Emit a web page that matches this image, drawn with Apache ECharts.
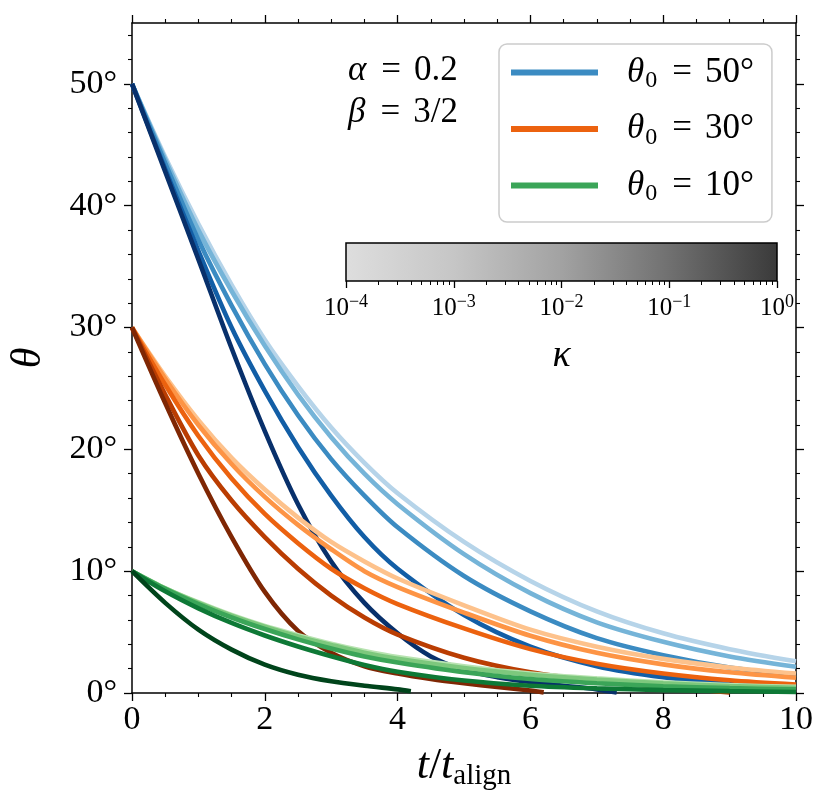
<!DOCTYPE html>
<html>
<head>
<meta charset="utf-8">
<script src="https://cdn.jsdelivr.net/npm/echarts@6/dist/echarts.min.js"></script>
<style>
html, body { margin: 0; padding: 0; background: #fff; }
#main { width: 829px; height: 811px; }
</style>
</head>
<body>
<div id="main"></div>
<script>
// time samples (t / t_align)
var tSteps = [0, 0.5, 1, 1.5, 2, 2.5, 3, 3.5, 4, 5, 6, 7, 8, 9, 10];
var tBlueFast = [0, 0.5, 1, 1.5, 2, 2.5, 3, 3.5, 4, 4.5, 5, 5.5, 6, 6.5, 7, 7.3];
var tOrangeMid = [0, 0.5, 1, 1.5, 2, 2.5, 3, 3.5, 4, 5, 6, 7, 8, 9];
var tOrangeFast = [0, 0.5, 1, 1.5, 2, 2.5, 3, 3.5, 4, 4.5, 5, 5.5, 6, 6.2];
var tGreenFast = [0, 0.5, 1, 1.5, 2, 2.5, 3, 3.5, 4, 4.2];

// theta0 = 50 deg, kappa = 1e-4 .. 1
var blueK4 = [50, 44, 38.5, 33.5, 29, 25.2, 21.8, 18.9, 16.4, 12.4, 9.2, 6.7, 4.9, 3.6, 2.6];
var blueK3 = [50, 43.8, 38, 33, 28.5, 24.5, 21, 18, 15.5, 11.4, 8.2, 5.8, 4.2, 3.0, 2.15];
var blueK2 = [50, 43.5, 37.2, 31.8, 27, 22.8, 19.2, 16.2, 13.6, 9.6, 6.7, 4.5, 3.1, 2.1, 1.5];
var blueK1 = [50, 43, 36.3, 30, 24.8, 20.2, 16.2, 12.8, 10.2, 6.4, 3.8, 2.2, 1.3, 0.8, 0.5];
var blueK0 = [50, 42.8, 35.6, 28.3, 21.5, 15.5, 10.8, 7.4, 4.9, 3.0, 1.9, 1.3, 0.9, 0.6, 0.3, 0.05];

// theta0 = 30 deg
var orangeK4 = [30, 26, 22.4, 19.3, 16.7, 14.4, 12.4, 10.8, 9.4, 7.2, 5.2, 3.8, 2.8, 2.1, 1.6];
var orangeK3 = [30, 25.8, 22, 18.8, 16.1, 13.8, 11.8, 10.0, 8.7, 6.6, 4.7, 3.3, 2.35, 1.7, 1.25];
var orangeK2 = [30, 25.3, 21.1, 17.6, 14.7, 12.3, 10.2, 8.6, 7.3, 5.3, 3.6, 2.4, 1.6, 1.05, 0.7];
var orangeK1 = [30, 24.5, 19.5, 15.8, 12.8, 10.2, 8.0, 6.2, 4.8, 2.9, 1.7, 1.0, 0.5, 0.05];
var orangeK0 = [30, 23.8, 18.0, 12.8, 8.3, 5.1, 3.3, 2.2, 1.6, 1.15, 0.8, 0.5, 0.2, 0.05];

// theta0 = 10 deg
var greenK4 = [10, 8.6, 7.45, 6.4, 5.5, 4.75, 4.05, 3.45, 2.95, 2.2, 1.6, 1.2, 0.88, 0.65, 0.5];
var greenK3 = [10, 8.6, 7.4, 6.35, 5.45, 4.65, 3.95, 3.3, 2.8, 2.05, 1.5, 1.1, 0.8, 0.58, 0.42];
var greenK2 = [10, 8.55, 7.3, 6.2, 5.25, 4.4, 3.65, 3.0, 2.5, 1.7, 1.15, 0.8, 0.55, 0.4, 0.3];
var greenK1 = [10, 8.35, 6.95, 5.75, 4.72, 3.82, 3.02, 2.3, 1.75, 1.02, 0.6, 0.38, 0.24, 0.15, 0.08];
var greenK0 = [10, 7.4, 5.2, 3.56, 2.33, 1.5, 0.96, 0.6, 0.3, 0.15];

// colours, light (small kappa) -> dark (kappa = 1)
var blues = ['#b6d4e9', '#75b4d8', '#3b8bc2', '#125ea6', '#08306b'];
var oranges = ['#fdc28c', '#fd9445', '#ec620f', '#ba3d02', '#7f2704'];
var greens = ['#b8e3b1', '#7dc87d', '#3ba558', '#0e7936', '#00441b'];

var yMajor = [0, 10, 20, 30, 40, 50];
var yMinor = [2, 4, 6, 8, 12, 14, 16, 18, 22, 24, 26, 28, 32, 34, 36, 38, 42, 44, 46, 48, 52, 54];
var kappaMajor = [1e-4, 1e-3, 1e-2, 1e-1, 1];
var kappaMinor = [];
[1e-4, 1e-3, 1e-2, 1e-1].forEach(function (d) {
    for (var m = 2; m <= 9; m++) kappaMinor.push(m * d);
});

var serif = "'Liberation Serif', 'DejaVu Serif', serif";

function pairs(ts, vs) {
    var out = [];
    for (var i = 0; i < vs.length; i++) out.push([ts[i], vs[i]]);
    return out;
}

var groups = [
    {key: 'theta50', colors: blues, curves: [[tSteps, blueK4], [tSteps, blueK3], [tSteps, blueK2], [tSteps, blueK1], [tBlueFast, blueK0]]},
    {key: 'theta30', colors: oranges, curves: [[tSteps, orangeK4], [tSteps, orangeK3], [tSteps, orangeK2], [tOrangeMid, orangeK1], [tOrangeFast, orangeK0]]},
    {key: 'theta10', colors: greens, curves: [[tSteps, greenK4], [tSteps, greenK3], [tSteps, greenK2], [tSteps, greenK1], [tGreenFast, greenK0]]}
];

var series = [];
groups.forEach(function (g) {
    g.curves.forEach(function (c, i) {
        series.push({
            name: i === 2 ? g.key : g.key + '_' + i,
            type: 'line',
            xAxisIndex: 0,
            yAxisIndex: 0,
            data: pairs(c[0], c[1]),
            smooth: 0.3,
            showSymbol: false,
            symbol: 'none',
            lineStyle: {color: g.colors[i], width: 4.6},
            itemStyle: {color: g.colors[i]},
            emphasis: {disabled: true},
            animation: false
        });
    });
});

var legendText = {theta50: '50°', theta30: '30°', theta10: '10°'};

var mathRich = {
    it: {fontFamily: serif, fontStyle: 'italic', fontSize: 35, color: '#000'},
    rm: {fontFamily: serif, fontSize: 35, color: '#000'},
    eq: {fontFamily: serif, fontSize: 35, color: '#000', padding: [0, 13, 0, 15]},
    sub: {fontFamily: serif, fontSize: 24, color: '#000', padding: [17, 0, 0, 1]}
};

var axisLineStyle = {color: '#000', width: 1.5};
function frameX(pos, labels) {
    return {
        gridIndex: 0, type: 'value', position: pos, min: 0, max: 10, interval: 2,
        axisLine: {show: true, onZero: false, lineStyle: axisLineStyle},
        axisTick: {show: true, inside: false, length: 8, lineStyle: {color: '#000', width: 1.3}},
        minorTick: {show: true, splitNumber: 4, length: 4, lineStyle: {color: '#000', width: 1.1}},
        splitLine: {show: false},
        axisLabel: {show: labels, fontFamily: serif, fontSize: 34, color: '#000', margin: 10},
        name: labels ? '{it|t}{rm|/}{it|t}{sub|align}' : '',
        nameLocation: 'middle',
        nameGap: 49,
        nameTextStyle: {
            rich: {
                it: {fontFamily: serif, fontStyle: 'italic', fontSize: 44, color: '#000'},
                rm: {fontFamily: serif, fontSize: 44, color: '#000'},
                sub: {fontFamily: serif, fontSize: 29, color: '#000', padding: [20, 0, 0, 0]}
            }
        }
    };
}
function frameY(pos, major, labels) {
    return {
        gridIndex: 0, type: 'value', position: pos, min: 0, max: 55,
        axisLine: {show: major, onZero: false, lineStyle: axisLineStyle},
        axisTick: {show: true, inside: false, length: major ? 8 : 4,
            customValues: major ? yMajor : yMinor,
            lineStyle: {color: '#000', width: major ? 1.3 : 1.1}},
        splitLine: {show: false},
        axisLabel: {show: labels, customValues: yMajor, fontFamily: serif, fontSize: 34, color: '#000', margin: 15,
            formatter: function (v) { return v + '°'; }},
        name: labels ? 'θ' : '',
        nameLocation: 'middle',
        nameRotate: 90,
        nameGap: 82,
        nameTextStyle: {fontFamily: serif, fontStyle: 'italic', fontSize: 42, color: '#000'}
    };
}

var chart = echarts.init(document.getElementById('main'));

chart.setOption({
    backgroundColor: '#fff',
    animation: false,
    grid: [
        {left: 126, right: 33, top: 23, bottom: 118, containLabel: false},
        {left: 346, top: 243, width: 431, height: 38, show: true, borderColor: '#000', borderWidth: 1.5,
            backgroundColor: new echarts.graphic.LinearGradient(0, 0, 1, 0, [
                {offset: 0, color: '#dedede'},
                {offset: 0.25, color: '#c6c6c6'},
                {offset: 0.5, color: '#a2a2a2'},
                {offset: 0.75, color: '#707070'},
                {offset: 1, color: '#3a3a3a'}
            ])}
    ],
    xAxis: [
        frameX('bottom', true),
        frameX('top', false),
        {
            gridIndex: 1, type: 'log', logBase: 10, min: 1e-4, max: 1, position: 'bottom',
            axisLine: {show: false},
            axisTick: {show: true, length: 7, customValues: kappaMajor, lineStyle: {color: '#000', width: 1.3}},
            splitLine: {show: false},
            axisLabel: {
                customValues: kappaMajor, margin: 12, color: '#000',
                formatter: function (v) {
                    var e = Math.round(Math.log(v) / Math.LN10);
                    return '{b|10}{s|' + (e < 0 ? '\u2212' + (-e) : e) + '}';
                },
                rich: {
                    b: {fontFamily: serif, fontSize: 25, color: '#000'},
                    s: {fontFamily: serif, fontSize: 18, color: '#000', padding: [0, 0, 13, 0]}
                }
            },
            name: 'κ', nameLocation: 'middle', nameGap: 56,
            nameTextStyle: {fontFamily: serif, fontStyle: 'italic', fontSize: 38, color: '#000'}
        },
        {
            gridIndex: 1, type: 'log', logBase: 10, min: 1e-4, max: 1, position: 'bottom',
            axisLine: {show: false},
            axisTick: {show: true, length: 4, customValues: kappaMinor, lineStyle: {color: '#000', width: 1}},
            splitLine: {show: false},
            axisLabel: {show: false}
        }
    ],
    yAxis: [
        frameY('left', true, true),
        frameY('left', false, false),
        frameY('right', true, false),
        frameY('right', false, false),
        {gridIndex: 1, type: 'value', min: 0, max: 1, show: false}
    ],
    legend: {
        data: ['theta50', 'theta30', 'theta10'],
        orient: 'vertical',
        left: 499,
        top: 44,
        padding: [11, 18, 16, 12],
        itemWidth: 87,
        itemHeight: 6,
        itemGap: 18.5,
        icon: 'rect',
        selectedMode: false,
        backgroundColor: 'rgba(255,255,255,0.8)',
        borderColor: '#cccccc',
        borderWidth: 1.5,
        borderRadius: 8,
        formatter: function (name) {
            return '{it|θ}{sub|0}{eq|=}{rm|' + legendText[name] + '}';
        },
        textStyle: {
            padding: [0, 0, 0, 24],
            rich: mathRich
        }
    },
    graphic: [
        {
            type: 'text', left: 348, top: 53,
            style: {
                text: '{it|α}{eq|=}{rm|0.2}',
                rich: mathRich
            }
        },
        {
            type: 'text', left: 348, top: 95,
            style: {
                text: '{it|β}{eq|=}{rm|3/2}',
                rich: mathRich
            }
        }
    ],
    series: series
});
</script>
</body>
</html>
